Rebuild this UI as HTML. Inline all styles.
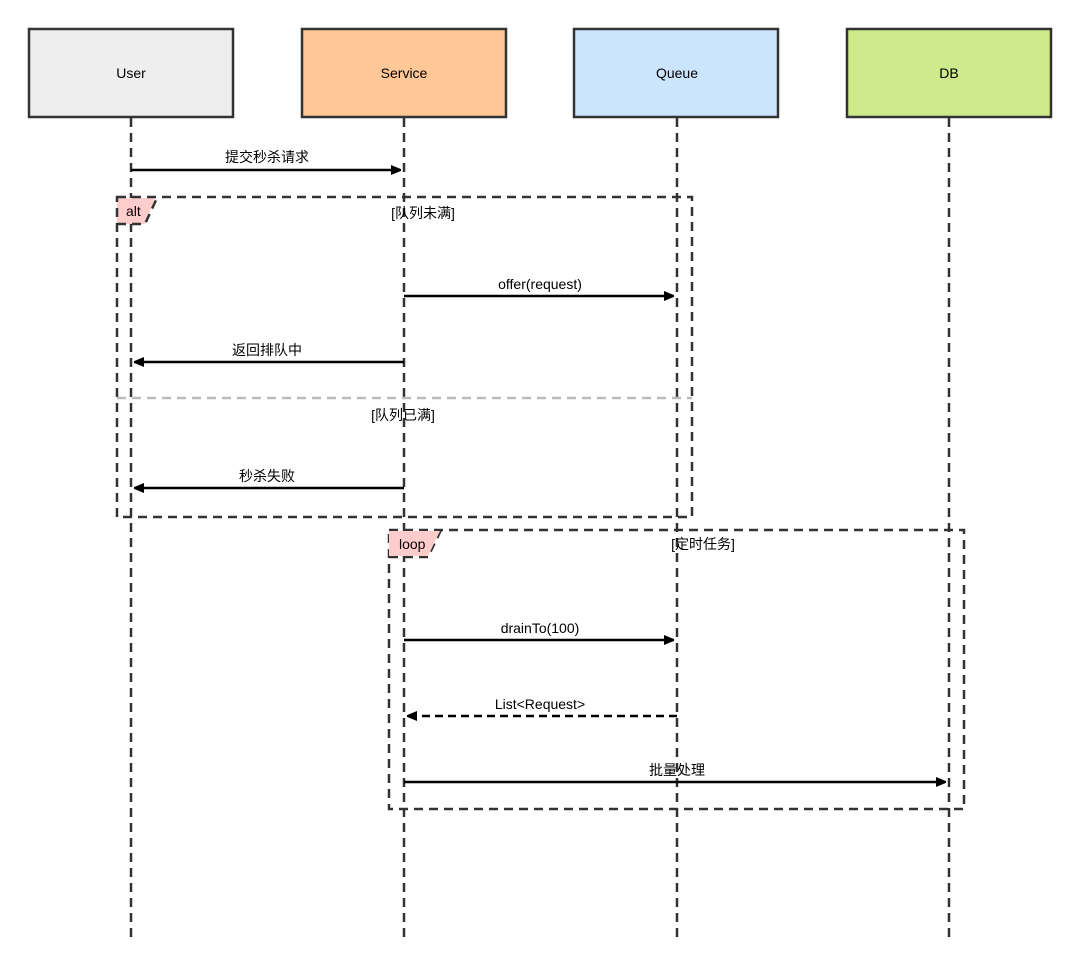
<!DOCTYPE html>
<html><head><meta charset="utf-8"><style>
html,body{margin:0;padding:0;background:#fff;}
svg{display:block}
text{font-family:"Liberation Sans","Noto Sans CJK SC",sans-serif;font-size:14px;fill:#000}
</style></head><body>
<svg width="1080" height="967" viewBox="0 0 1080 967">
<defs>
<marker id="ah" markerWidth="10" markerHeight="10" refX="9" refY="5" orient="auto" markerUnits="userSpaceOnUse">
<path d="M0,0 L12,5 L0,10 z" fill="#000"/></marker>
</defs>
<g stroke="#333" stroke-width="2.5" stroke-dasharray="9,6" fill="none">
<line x1="131" y1="118" x2="131" y2="940"/>
<line x1="404" y1="118" x2="404" y2="940"/>
<line x1="677" y1="118" x2="677" y2="940"/>
<line x1="949" y1="118" x2="949" y2="940"/>
</g>
<g stroke="#333" stroke-width="2.5">
<rect x="29" y="29" width="204" height="88" fill="#eeeeee"/>
<rect x="302" y="29" width="204" height="88" fill="#ffc896"/>
<rect x="574" y="29" width="204" height="88" fill="#cce5ff"/>
<rect x="847" y="29" width="204" height="88" fill="#cdeb8b"/>
</g>
<g text-anchor="middle">
<text x="131" y="78">User</text><text x="404" y="78">Service</text>
<text x="677" y="78">Queue</text><text x="949" y="78">DB</text>
</g>
<path d="M117,198 L155,198 L145,224 L117,224 z" fill="#ffcccc"/>
<g stroke="#333" stroke-width="2.5" stroke-dasharray="9,6" fill="none">
<rect x="117" y="197" width="575" height="320"/>
<path d="M117,224 L145,224 L157,198"/>
<rect x="389" y="530" width="575" height="279"/>
<path d="M389,557 L428,557 L441,530"/>
</g>
<path d="M389,531 L440,531 L428,556 L389,556 z" fill="#ffcccc"/>
<line x1="117" y1="398" x2="692" y2="398" stroke="#bbb" stroke-width="2.5" stroke-dasharray="9,6"/>
<text x="126" y="216" font-size="13">alt</text>
<text x="399" y="549">loop</text>
<text x="423" y="218" text-anchor="middle" font-size="15">[队列未满]</text>
<text x="403" y="420" text-anchor="middle" font-size="15">[队列已满]</text>
<text x="703" y="549" text-anchor="middle" font-size="15">[定时任务]</text>
<g stroke="#000" stroke-width="2.5" fill="none" marker-end="url(#ah)">
<line x1="131" y1="170" x2="400" y2="170"/>
<line x1="404" y1="296" x2="673" y2="296"/>
<line x1="404" y1="362" x2="135" y2="362"/>
<line x1="404" y1="488" x2="135" y2="488"/>
<line x1="404" y1="640" x2="673" y2="640"/>
<line x1="677" y1="716" x2="408" y2="716" stroke-dasharray="8,5"/>
<line x1="404" y1="782" x2="945" y2="782"/>
</g>
<g text-anchor="middle" font-size="13">
<text x="267" y="162">提交秒杀请求</text>
<text x="540" y="289">offer(request)</text>
<text x="267" y="355">返回排队中</text>
<text x="267" y="481">秒杀失败</text>
<text x="540" y="633">drainTo(100)</text>
<text x="540" y="709">List&lt;Request&gt;</text>
<text x="677" y="775">批量处理</text>
</g>
</svg>
</body></html>
